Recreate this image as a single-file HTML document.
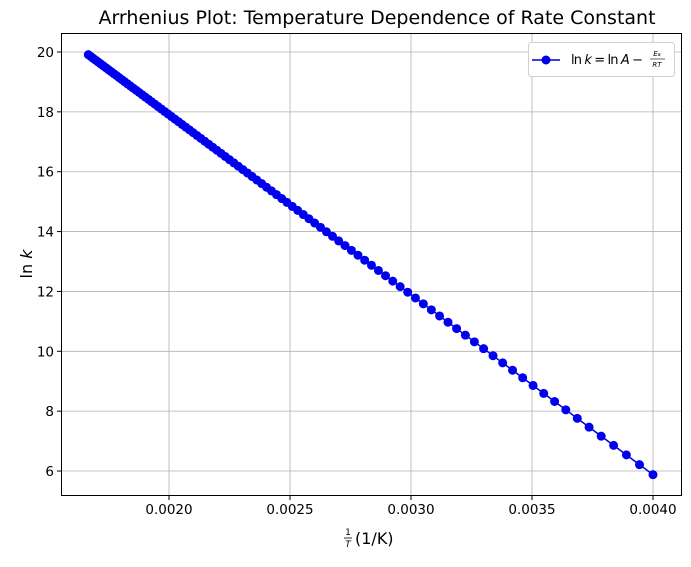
<!DOCTYPE html>
<html><head><meta charset="utf-8"><style>
body{margin:0;background:#fff;}
svg text{font-family:"DejaVu Sans","Liberation Sans",sans-serif;}
</style></head><body>
<svg id="s" width="691" height="562" xmlns="http://www.w3.org/2000/svg">
<rect width="691" height="562" fill="#fff"/>
<text x="377" y="24" font-size="19" text-anchor="middle">Arrhenius Plot: Temperature Dependence of Rate Constant</text>
<g id="grid" stroke="#b0b0b0" stroke-width="0.8"></g>
<g id="ticks" font-size="13.5"></g>
<polyline id="line" fill="none" stroke="#0000cc" stroke-width="1.5"/>
<g id="pts" fill="#0000ee"></g>
<rect x="61.5" y="33.5" width="620" height="462" fill="none" stroke="#000" stroke-width="1"/>
<g font-size="16">
<text x="348" y="535" font-size="9" text-anchor="middle">1</text>
<line x1="344" y1="538" x2="352" y2="538" stroke="#000" stroke-width="0.8"/>
<text x="348" y="547" font-size="9" font-style="italic" text-anchor="middle">T</text>
<text x="355" y="544">(1/K)</text>
<text transform="translate(32,264) rotate(-90)" text-anchor="middle">ln <tspan font-style="italic">k</tspan></text>
</g>
<g>
<rect x="528.5" y="42.5" width="146" height="34" rx="3" fill="#fff" stroke="#d0d0d0"/>
<line x1="532" y1="60" x2="560" y2="60" stroke="#0000cc" stroke-width="1.5"/>
<circle cx="546" cy="60" r="4.5" fill="#0000ee"/>
<text x="571" y="64" font-size="13" textLength="72">ln <tspan font-style="italic">k</tspan> = ln <tspan font-style="italic">A</tspan> −</text>
<text x="657" y="56" font-size="7" font-style="italic" text-anchor="middle">E<tspan font-size="5">a</tspan></text>
<line x1="650" y1="59" x2="665" y2="59" stroke="#000" stroke-width="0.6"/>
<text x="657" y="67" font-size="7" font-style="italic" text-anchor="middle">RT</text>
</g>
</svg>
<script>
var NS="http://www.w3.org/2000/svg";
function X(v){return 653+(v-0.004)*242000;}
function Y(v){return 52+(20-v)*29.93;}
var g=document.getElementById('grid'),t=document.getElementById('ticks');
function el(p,n,a,txt){var e=document.createElementNS(NS,n);for(var k in a)e.setAttribute(k,a[k]);if(txt)e.textContent=txt;p.appendChild(e);return e;}
[0.002,0.0025,0.003,0.0035,0.004].forEach(function(v){var x=X(v);el(g,'line',{x1:x,x2:x,y1:34,y2:495});el(t,'line',{x1:x,x2:x,y1:495,y2:500,stroke:'#000'});el(t,'text',{x:x,y:514,'text-anchor':'middle'},v.toFixed(4));});
[6,8,10,12,14,16,18,20].forEach(function(v){var y=Y(v);el(g,'line',{x1:62,x2:681,y1:y,y2:y});el(t,'line',{x1:57,x2:61,y1:y,y2:y,stroke:'#000'});el(t,'text',{x:54,y:y+5,'text-anchor':'end'},String(v));});
var lnA=Math.log(1e13),E=50000/8.314,pts=[],pg=document.getElementById('pts');
for(var i=0;i<100;i++){var T=250+350*i/99,x=X(1/T),y=Y(lnA-E/T);pts.push(x.toFixed(2)+','+y.toFixed(2));el(pg,'circle',{cx:x,cy:y,r:4.5});}
document.getElementById('line').setAttribute('points',pts.join(' '));
</script>
</body></html>
